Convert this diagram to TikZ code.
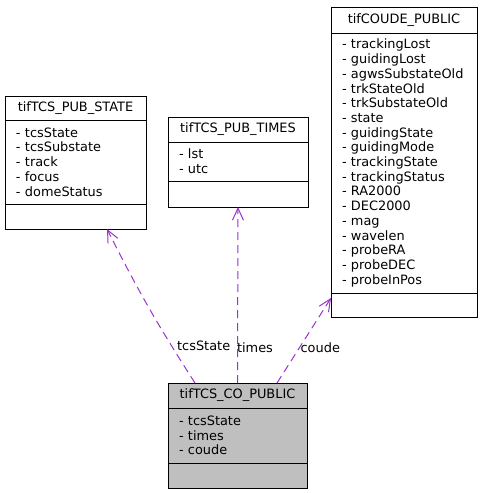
\documentclass[tikz,border=0pt]{standalone}
\usepackage{fontspec}
\setmainfont{DejaVu Sans}
\usepackage{xcolor}
\usetikzlibrary{positioning,arrows.meta}
\definecolor{edgepurple}{HTML}{9A32CD}
\definecolor{boxgray}{HTML}{BFBFBF}
\tikzset{classhead/.style={draw, line width=1pt, outer sep=0pt, inner sep=0pt, minimum width=#1, minimum height=25pt}}
\tikzset{classbody/.style={draw, line width=1pt, outer sep=0pt, inner xsep=11pt, inner ysep=0pt, text width=#1, align=left}}
\tikzset{usage/.style={draw=edgepurple, line width=1pt, dash pattern=on 8pt off 5pt, -{Straight Barb[length=12pt,width=11pt,line width=1pt]}}}
\tikzset{edgelabel/.style={anchor=west, inner sep=1pt, text=black}}

\begin{document}
\begin{tikzpicture}[x=1pt, y=-1pt, every node/.style={font=\fontsize{12.9}{14.7}\selectfont}]
    \useasboundingbox (0,0) rectangle (480,493);

    \node[classhead=141pt, minimum height=24pt] at (75.5,108) (stT){tifTCS\_PUB\_STATE};
    \node[classbody=119pt, minimum height=84pt, below=0pt of stT] (stA){- tcsState\\- tcsSubstate\\- track\\- focus\\- domeStatus};
    \node[classhead=141pt, below=0pt of stA] (stE){};

    \node[classhead=140pt] at (238,129.5) (tmT){tifTCS\_PUB\_TIMES};
    \node[classbody=118pt, minimum height=39pt, below=0pt of tmT] (tmA){- lst\\- utc};
    \node[classhead=140pt, minimum height=26pt, below=0pt of tmA] (tmE){};

    \node[classhead=146pt, minimum height=26pt] at (404,20) (cdT){tifCOUDE\_PUBLIC};
    \node[classbody=124pt, minimum height=260pt, below=0pt of cdT] (cdA){- trackingLost\\- guidingLost\\- agwsSubstateOld\\- trkStateOld\\- trkSubstateOld\\- state\\- guidingState\\- guidingMode\\- trackingState\\- trackingStatus\\- RA2000\\- DEC2000\\- mag\\- wavelen\\- probeRA\\- probeDEC\\- probeInPos};
    \node[classhead=146pt, minimum height=24pt, below=0pt of cdA] (cdE){};

    \node[classhead=139pt, fill=boxgray] at (237.5,395.5) (coT){tifTCS\_CO\_PUBLIC};
    \node[classbody=117pt, fill=boxgray, minimum height=55pt, below=0pt of coT] (coA){- tcsState\\- times\\- coude};
    \node[classhead=139pt, fill=boxgray, below=0pt of coA] (coE){};

    \draw[usage] ([xshift=-42.5pt]coT.north) to[bend left=3] node[pos=0.23, edgelabel, xshift=4pt]{tcsState} ([xshift=31.5pt]stE.south);
    \draw[usage] (coT.north) -- node[pos=0.2, edgelabel, xshift=-2pt]{times} (tmE.south);
    \draw[usage] ([xshift=39.5pt]coT.north) -- node[pos=0.41, edgelabel]{coude} ([yshift=7pt]cdE.west);
  \end{tikzpicture}
\end{document}
